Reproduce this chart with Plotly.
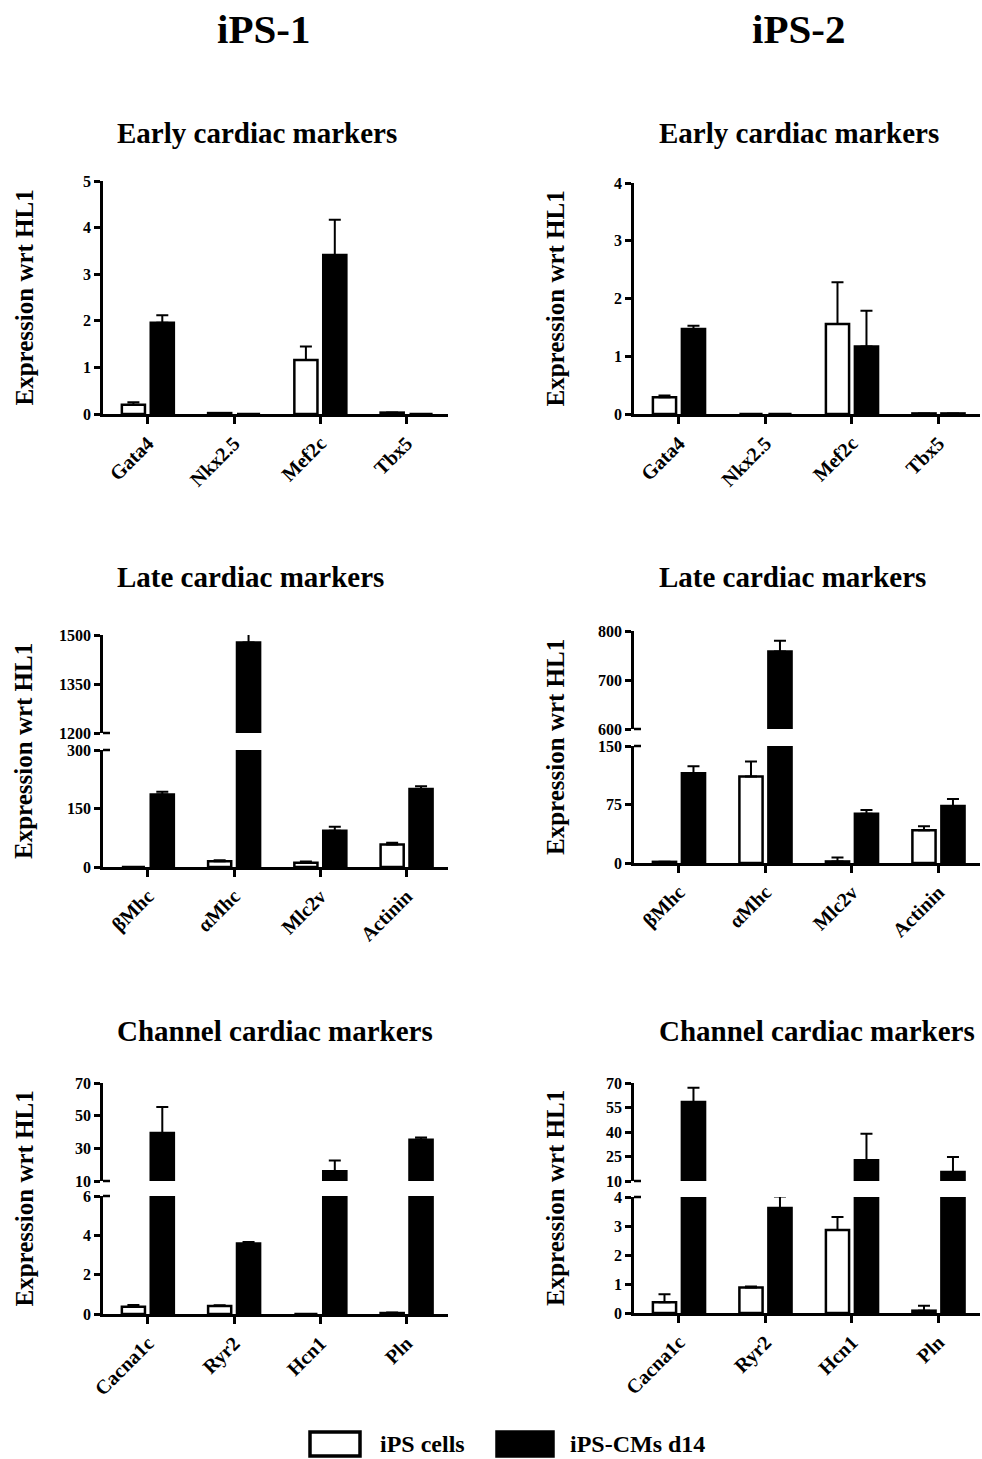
import plotly.graph_objects as go

# ---------------- data ----------------
series_names = ["iPS cells", "iPS-CMs d14"]

early_genes = ["Gata4", "Nkx2.5", "Mef2c", "Tbx5"]
late_genes = ["βMhc", "αMhc", "Mlc2v", "Actinin"]
channel_genes = ["Cacna1c", "Ryr2", "Hcn1", "Pln"]

# iPS-1
ips1_early_ips = [0.20, 0.02, 1.16, 0.03]
ips1_early_ips_err = [0.05, 0.0, 0.29, 0.0]
ips1_early_cm = [1.96, 0.0, 3.41, 0.0]
ips1_early_cm_err = [0.16, 0.0, 0.76, 0.0]

ips1_late_ips = [0.0, 15, 11, 58]
ips1_late_ips_err = [0, 2, 3, 4]
ips1_late_cm = [186, 1477, 93, 200]
ips1_late_cm_err = [7, 28, 10, 7]

ips1_channel_ips = [0.37, 0.41, 0.0, 0.05]
ips1_channel_ips_err = [0.09, 0.03, 0.0, 0.03]
ips1_channel_cm = [39.4, 3.59, 15.9, 35.3]
ips1_channel_cm_err = [15.9, 0.07, 6.7, 1.4]

# iPS-2
ips2_early_ips = [0.29, 0.0, 1.56, 0.01]
ips2_early_ips_err = [0.03, 0.0, 0.72, 0.0]
ips2_early_cm = [1.47, 0.0, 1.17, 0.01]
ips2_early_cm_err = [0.06, 0.0, 0.62, 0.0]

ips2_late_ips = [1.5, 111, 2, 42]
ips2_late_ips_err = [0, 19, 5, 5]
ips2_late_cm = [115, 758, 63, 73]
ips2_late_cm_err = [9, 22, 5, 9]

ips2_channel_ips = [0.37, 0.88, 2.86, 0.08]
ips2_channel_ips_err = [0.28, 0.03, 0.45, 0.17]
ips2_channel_cm = [58.4, 3.62, 22.7, 15.5]
ips2_channel_cm_err = [8.7, 0.40, 16.3, 9.2]

column_titles = ["iPS-1", "iPS-2"]
panel_titles = ["Early cardiac markers", "Late cardiac markers", "Channel cardiac markers"]
y_title = "Expression wrt HL1"

# ---------------- layout helpers ----------------
W, H = 982, 1459
FONT = "Liberation Serif, Times New Roman, serif"


def fx(p):
    return p / W


def fy(p):
    return 1 - p / H


col_x = [(103, 448), (634, 980)]
title_left = [115, 657]

# segments: (pixel top, pixel bottom, range, tickvals), listed bottom segment first
panels = [
    dict(col=0, row=0, genes=early_genes,
         data=(ips1_early_ips, ips1_early_ips_err, ips1_early_cm, ips1_early_cm_err),
         segs=[(181, 414, [0, 5], [0, 1, 2, 3, 4, 5])]),
    dict(col=1, row=0, genes=early_genes,
         data=(ips2_early_ips, ips2_early_ips_err, ips2_early_cm, ips2_early_cm_err),
         segs=[(183, 414, [0, 4], [0, 1, 2, 3, 4])]),
    dict(col=0, row=1, genes=late_genes,
         data=(ips1_late_ips, ips1_late_ips_err, ips1_late_cm, ips1_late_cm_err),
         segs=[(750, 867, [0, 300], [0, 150, 300]),
               (635, 733, [1200, 1500], [1200, 1350, 1500])]),
    dict(col=1, row=1, genes=late_genes,
         data=(ips2_late_ips, ips2_late_ips_err, ips2_late_cm, ips2_late_cm_err),
         segs=[(746, 863, [0, 150], [0, 75, 150]),
               (631, 729, [600, 800], [600, 700, 800])]),
    dict(col=0, row=2, genes=channel_genes,
         data=(ips1_channel_ips, ips1_channel_ips_err, ips1_channel_cm, ips1_channel_cm_err),
         segs=[(1196, 1314, [0, 6], [0, 2, 4, 6]),
               (1083, 1181, [10, 70], [10, 30, 50, 70])]),
    dict(col=1, row=2, genes=channel_genes,
         data=(ips2_channel_ips, ips2_channel_ips_err, ips2_channel_cm, ips2_channel_cm_err),
         segs=[(1197, 1313, [0, 4], [0, 1, 2, 3, 4]),
               (1083, 1181, [10, 70], [10, 25, 40, 55, 70])]),
]
title_y = [133, 577, 1031]

fig = go.Figure()
layout = {}
annotations = []
shapes = []

yidx = 0
for pi, p in enumerate(panels):
    xn = pi + 1
    xname = "x" if xn == 1 else f"x{xn}"
    x0, x1 = col_x[p["col"]]
    ips, ips_err, cm, cm_err = p["data"]
    first_y = None
    for si, (top, bot, rng, tv) in enumerate(p["segs"]):
        yidx += 1
        yname = "y" if yidx == 1 else f"y{yidx}"
        if first_y is None:
            first_y = yname
        layout["yaxis" if yidx == 1 else f"yaxis{yidx}"] = dict(
            domain=[fy(bot), fy(top)], range=rng, tickvals=tv,
            anchor=xname, showline=True, linecolor="black", linewidth=2.5,
            ticks="outside", ticklen=6, tickwidth=2.5, tickcolor="black",
            showgrid=False, zeroline=False, automargin=False,
            tickfont=dict(family=FONT, size=16, color="black", weight="bold"),
        )
        fig.add_trace(go.Bar(
            x=p["genes"], y=ips, name=series_names[0], xaxis=xname, yaxis=yname,
            marker=dict(color="white", line=dict(color="black", width=2.5)),
            error_y=dict(type="data", array=ips_err, arrayminus=[0] * len(ips_err),
                         symmetric=False, color="black", thickness=2, width=6),
            showlegend=False, legendgroup="a",
        ))
        fig.add_trace(go.Bar(
            x=p["genes"], y=cm, name=series_names[1], xaxis=xname, yaxis=yname,
            marker=dict(color="black", line=dict(color="black", width=2.5)),
            error_y=dict(type="data", array=cm_err, arrayminus=[0] * len(cm_err),
                         symmetric=False, color="black", thickness=2, width=6),
            showlegend=False, legendgroup="b",
        ))
        # break marks on the axis
        if len(p["segs"]) > 1:
            yref = f"{yname} domain"
            yv = 1 if si == 0 else 0
            shapes.append(dict(type="line", xref=f"{xname} domain", yref=yref,
                               x0=0, x1=7 / (x1 - x0), y0=yv, y1=yv,
                               line=dict(color="black", width=2.5)))
    layout["xaxis" if xn == 1 else f"xaxis{xn}"] = dict(
        domain=[fx(x0), fx(x1)], range=[-0.52, 3.48], type="category",
        anchor=first_y, showline=True, linecolor="black", linewidth=2.5,
        ticks="outside", ticklen=7, tickwidth=2.5, tickcolor="black",
        tickangle=-45, showgrid=False, zeroline=False, automargin=False,
        tickfont=dict(family=FONT, size=20, color="black", weight="bold"),
    )
    # panel title
    annotations.append(dict(
        text=f"<b>{panel_titles[p['row']]}</b>", xref="paper", yref="paper",
        x=fx(title_left[p["col"]]), y=fy(title_y[p["row"]]), xanchor="left", yanchor="middle",
        showarrow=False, font=dict(family=FONT, size=29, color="black"),
    ))
    # y-axis title
    tops = [s[0] for s in p["segs"]]
    bots = [s[1] for s in p["segs"]]
    ymid = (min(tops) + max(bots)) / 2
    annotations.append(dict(
        text=f"<b>{y_title}</b>", xref="paper", yref="paper",
        x=fx(24 if p["col"] == 0 else 555), y=fy(ymid), xanchor="center", yanchor="middle",
        textangle=-90, showarrow=False, font=dict(family=FONT, size=25, color="black"),
    ))

for ci, t in enumerate(column_titles):
    annotations.append(dict(
        text=f"<b>{t}</b>", xref="paper", yref="paper",
        x=fx(263 if ci == 0 else 798), y=fy(29), xanchor="center", yanchor="middle",
        showarrow=False, font=dict(family=FONT, size=41, color="black"),
    ))

# legend (key boxes + labels)
legend_boxes = [((310, 360), "white"), ((497, 553), "black")]
legend_text_x = [378, 568]
for (bx, fill), tx, name in zip(legend_boxes, legend_text_x, series_names):
    shapes.append(dict(type="rect", xref="paper", yref="paper",
                       x0=fx(bx[0]), x1=fx(bx[1]), y0=fy(1456), y1=fy(1432),
                       fillcolor=fill, line=dict(color="black", width=3.5)))
    annotations.append(dict(
        text=f"<b>{name}</b>", xref="paper", yref="paper",
        x=fx(tx), y=fy(1444), xanchor="left", yanchor="middle",
        showarrow=False, font=dict(family=FONT, size=24, color="black"),
    ))

fig.update_layout(
    **layout,
    width=W, height=H,
    margin=dict(l=0, r=0, t=0, b=0, autoexpand=False),
    paper_bgcolor="white", plot_bgcolor="white",
    barmode="group", bargap=0.33, bargroupgap=0.2,
    annotations=annotations, shapes=shapes,
    showlegend=False,
    font=dict(family=FONT, color="black"),
)

fig.write_html(
    "out.html",
    config={"displayModeBar": False},
    post_script="document.body.style.margin='0';document.body.style.overflow='hidden';",
)
